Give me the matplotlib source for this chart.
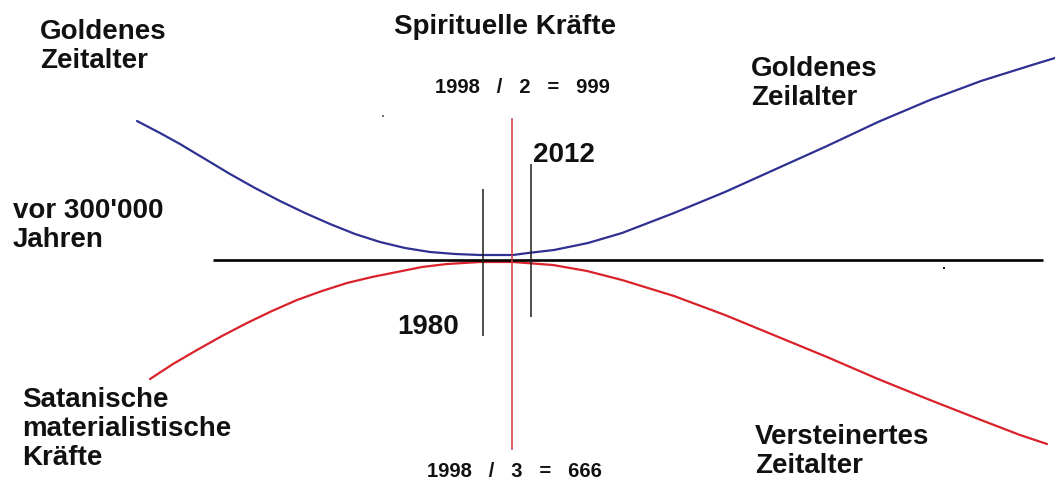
import matplotlib
matplotlib.use("Agg")
import matplotlib.pyplot as plt

# Curve data (horizontal position, vertical level in image-like units; level grows downward)
blue_x = [137, 160, 180, 205, 230, 255, 280, 305, 330, 355, 380, 405, 430, 455, 480,
          513, 528, 554, 588, 622, 674, 725, 776, 827, 878, 930, 981, 1032, 1055]
blue_y = [121, 133, 144, 159, 174, 188, 201, 213, 224, 234, 242, 248, 252, 254, 255,
          255, 253, 250, 243, 233, 213, 192, 169, 146, 122, 100, 81, 65, 58]
red_x = [150, 173, 197, 222, 247, 272, 297, 322, 347, 372, 397, 422, 447, 480, 513,
         553, 587, 622, 674, 725, 776, 827, 878, 930, 981, 1020, 1047]
red_y = [379, 364, 350, 336, 323, 311, 300, 291, 283, 277, 272, 267, 264, 262, 262,
         265, 271, 280, 296, 315, 336, 357, 379, 400, 420, 435, 444]

# Horizontal axis and vertical markers
axis_span = (213, 1043)
axis_level = 259.5
vlines = [  # x, top, bottom, colour
    (482.5, 189, 336, "#1e1e1e"),
    (511.5, 118, 450, "#d33a3a"),
    (530.5, 164, 317, "#1e1e1e"),
]
dots = [(944, 268, "#111111"), (383, 116, "#777777")]

labels = [
    # text, x, top, size, ha
    ("Goldenes\nZeitalter", 40, 19, 20, "left"),
    ("Spirituelle Kräfte", 505, 14, 20, "center"),
    ("1998   /   2   =   999", 522, 78, 14.5, "center"),
    ("Goldenes\nZeilalter", 751, 56, 20, "left"),
    ("2012", 533, 142, 20, "left"),
    ("vor 300'000\nJahren", 13, 198, 20, "left"),
    ("1980", 397, 314, 20, "left"),
    ("Satanische\nmaterialistische\nKräfte", 22, 387, 20, "left"),
    ("Versteinertes\nZeitalter", 755, 424, 20, "left"),
    ("1998   /   3   =   666", 514, 462, 14.5, "center"),
]

fig = plt.figure(figsize=(10.55, 4.79), dpi=100)
ax = fig.add_axes([0, 0, 1, 1])
ax.set_xlim(0, 1055)
ax.set_ylim(479, 0)
ax.axis("off")

ax.plot(blue_x, blue_y, color="#2e3192", lw=1.6, solid_capstyle="round", solid_joinstyle="round")
ax.plot(red_x, red_y, color="#d9222a", lw=1.6, solid_capstyle="round", solid_joinstyle="round")
ax.hlines(axis_level, axis_span[0], axis_span[1], color="black", lw=1.9)
for x, t, b, c in vlines:
    ax.vlines(x, t, b, color=c, lw=1.1)
for x, y, c in dots:
    ax.plot([x], [y], "s", color=c, ms=1.8, mew=0)

for txt, x, y, s, ha in labels:
    ax.text(x, y, txt, fontsize=s, fontweight="bold", family="Liberation Sans",
            ha=ha, va="top", linespacing=1.15, color="#111111")

fig.savefig("out.png", dpi=100)
